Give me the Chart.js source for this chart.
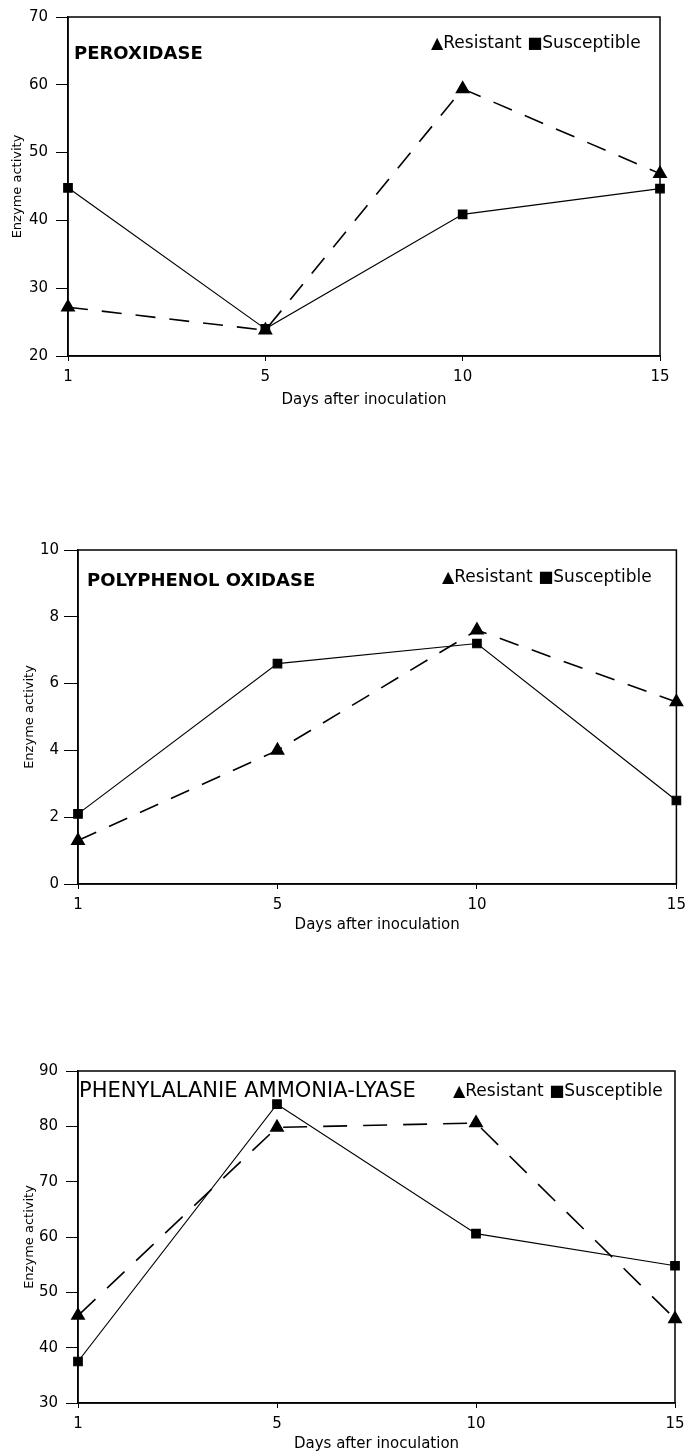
<!DOCTYPE html>
<html>
<head>
<meta charset="utf-8">
<script src="https://cdn.jsdelivr.net/npm/chart.js@4.4.1/dist/chart.umd.min.js"></script>
<style>
body { margin: 0; background: #fff; width: 685px; height: 1453px; position: relative; overflow: hidden; font-family: "DejaVu Sans", sans-serif; }
.box { position: absolute; left: 0; width: 685px; }
.txt { position: absolute; white-space: nowrap; color: #000; line-height: 1; transform: translateY(-50%); }
.head { font-weight: bold; font-size: 18px; }
.leg { font-size: 17px; }
.mk { font-size: 16px; }
</style>
</head>
<body>

<div class="box" style="top:0;height:410px"><canvas id="perox" width="685" height="410"></canvas></div>
<div class="box" style="top:500px;height:440px"><canvas id="ppo" width="685" height="440"></canvas></div>
<div class="box" style="top:1000px;height:453px"><canvas id="pal" width="685" height="453"></canvas></div>

<!-- panel headings and keys -->
<span class="txt head" style="left:74px;top:53px">PEROXIDASE</span>
<span class="txt leg" style="left:431px;top:42px"><span class="mk">▲</span>Resistant <span class="mk">■</span>Susceptible</span>

<span class="txt head" style="left:87px;top:580px">POLYPHENOL OXIDASE</span>
<span class="txt leg" style="left:442px;top:576px"><span class="mk">▲</span>Resistant <span class="mk">■</span>Susceptible</span>

<span class="txt" style="left:79px;top:1090px;font-size:21px">PHENYLALANIE AMMONIA-LYASE</span>
<span class="txt leg" style="left:453px;top:1090px"><span class="mk">▲</span>Resistant <span class="mk">■</span>Susceptible</span>

<script>
// days after inoculation
var days = ['1', '5', '10', '15'];

// peroxidase
var peroxResistant = [27.2, 23.8, 59.4, 46.9];
var peroxSusceptible = [44.8, 24.0, 40.9, 44.7];
var peroxAxis = [20, 70, 10];

// polyphenol oxidase
var ppoResistant = [1.3, 4.0, 7.6, 5.45];
var ppoSusceptible = [2.1, 6.6, 7.2, 2.5];
var ppoAxis = [0, 10, 2];

// phenylalanine ammonia-lyase
var palResistant = [45.8, 79.8, 80.6, 45.2];
var palSusceptible = [37.5, 84.0, 60.6, 54.8];
var palAxis = [30, 90, 10];

var font = 'DejaVu Sans';

// box round the plot area
var frame = {
    id: 'frame',
    afterDraw: function (chart) {
        var a = chart.chartArea, c = chart.ctx;
        c.save();
        c.strokeStyle = '#000';
        c.lineWidth = 1.5;
        c.strokeRect(a.left, a.top, a.right - a.left, a.bottom - a.top);
        c.restore();
    }
};

function enzymeChart(id, resistant, susceptible, axis, lay) {
    return new Chart(document.getElementById(id).getContext('2d'), {
        type: 'line',
        data: {
            labels: days,
            datasets: [{
                label: 'Resistant',
                data: resistant,
                borderColor: '#000',
                borderWidth: 1.6,
                borderDash: lay.dash,
                pointStyle: 'triangle',
                pointRadius: 7,
                pointBackgroundColor: '#000',
                pointBorderColor: '#000',
                tension: 0,
                clip: false
            }, {
                label: 'Susceptible',
                data: susceptible,
                borderColor: '#000',
                borderWidth: 1.2,
                pointStyle: 'rect',
                pointRadius: 6,
                pointBackgroundColor: '#000',
                pointBorderColor: '#000',
                tension: 0,
                clip: false
            }]
        },
        options: {
            responsive: false,
            animation: false,
            layout: { padding: { top: lay.top, right: lay.right, left: 0, bottom: 0 } },
            plugins: { legend: { display: false }, tooltip: { enabled: false } },
            scales: {
                x: {
                    type: 'category',
                    offset: false,
                    grid: { drawOnChartArea: false, tickLength: 5, color: '#000' },
                    border: { color: '#000', width: 1.5 },
                    ticks: { color: '#000', font: { family: font, size: 15 }, padding: 7, maxRotation: 0, autoSkip: false },
                    title: { display: true, text: 'Days after inoculation', color: '#000', font: { family: font, size: 15 }, padding: { top: 0, bottom: lay.titleBottom } },
                    afterFit: function (s) {
                        s.height = lay.xHeight;
                        // let the last day label run off the edge
                        s.paddingLeft = 0;
                        s.paddingRight = 0;
                    }
                },
                y: {
                    min: axis[0],
                    max: axis[1],
                    grid: { drawOnChartArea: false, tickLength: lay.tick, color: '#000' },
                    border: { color: '#000', width: 1.5 },
                    ticks: { stepSize: axis[2], color: '#000', font: { family: font, size: 15 }, padding: lay.tickPad },
                    title: { display: true, text: 'Enzyme activity', color: '#000', font: { family: font, size: 13 }, padding: { top: lay.yTitle, bottom: 0 } },
                    afterFit: function (s) { s.width = lay.left; }
                }
            }
        },
        plugins: [frame]
    });
}

enzymeChart('perox', peroxResistant, peroxSusceptible, peroxAxis,
    { top: 17, right: 25, left: 68, xHeight: 54, titleBottom: 1, tick: 12, tickPad: 8, yTitle: 10, dash: [20, 14] });

enzymeChart('ppo', ppoResistant, ppoSusceptible, ppoAxis,
    { top: 50, right: 8, left: 78, xHeight: 56, titleBottom: 6, tick: 14, tickPad: 5, yTitle: 22, dash: [20, 14] });

enzymeChart('pal', palResistant, palSusceptible, palAxis,
    { top: 71, right: 10, left: 78, xHeight: 50, titleBottom: 0, tick: 12, tickPad: 8, yTitle: 22, dash: [24, 16] });
</script>
</body>
</html>
